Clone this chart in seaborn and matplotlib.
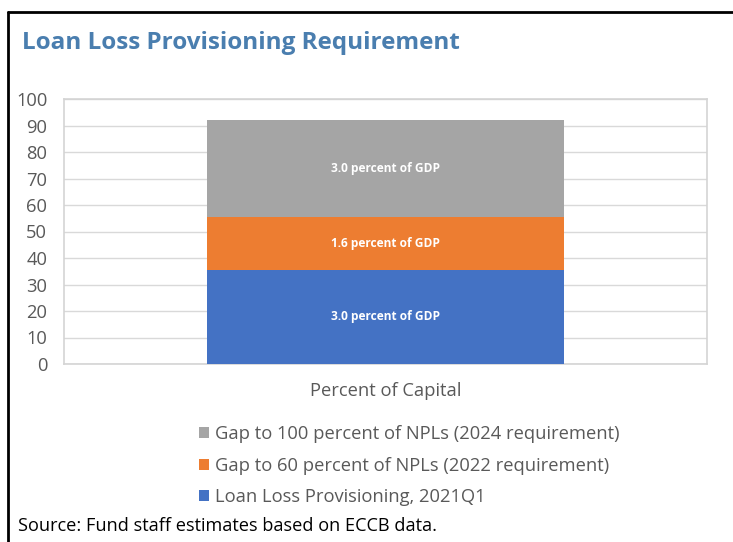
import matplotlib
matplotlib.use("Agg")
import matplotlib.pyplot as plt
from matplotlib.lines import Line2D
from matplotlib.patches import Patch
import seaborn as sns
import pandas as pd

categories = ["Percent of Capital"]
llp_2021q1 = [35.6]
gap_60 = [19.7]
gap_100 = [36.9]
series_names = ["Loan Loss Provisioning, 2021Q1",
                "Gap to 60 percent of NPLs (2022 requirement)",
                "Gap to 100 percent of NPLs (2024 requirement)"]
segment_labels = ["3.0 percent of GDP", "1.6 percent of GDP", "3.0 percent of GDP"]
colors = ["#4472C4", "#ED7D31", "#A5A5A5"]
yticks = [0, 10, 20, 30, 40, 50, 60, 70, 80, 90, 100]

sns.set_theme(style="white")
plt.rcParams["font.family"] = ["Open Sans", "DejaVu Sans"]

df = pd.DataFrame({"cat": categories, "a": llp_2021q1, "b": gap_60, "c": gap_100})
df["top_b"] = df["a"] + df["b"]
df["top_c"] = df["top_b"] + df["c"]

fig = plt.figure(figsize=(7.33, 5.42), dpi=100)
ax = fig.add_axes([64/733, 1-364/542, (707-64)/733, (364-99)/542])

W = 0.556
for col, color in zip(["top_c", "top_b", "a"], [colors[2], colors[1], colors[0]]):
    sns.barplot(data=df, x="cat", y=col, color=color, width=W, ax=ax,
                saturation=1, linewidth=0, zorder=3)

bottoms = [0, df["a"][0], df["top_b"][0]]
heights = [df["a"][0], df["b"][0], df["c"][0]]
for b, h, lab in zip(bottoms, heights, segment_labels):
    ax.text(0, b + h/2, lab, ha="center", va="center", color="white",
            fontsize=8.6, fontweight="bold", zorder=5)

ax.set_xlim(-0.5, 0.5)
ax.set_ylim(0, 100)
ax.set_yticks(yticks)
ax.yaxis.grid(True, color="#D9D9D9", linewidth=1, zorder=0)
ax.set_axisbelow(True)
for s in ax.spines.values():
    s.set_color("#D4D4D4")
    s.set_linewidth(1.2)
ax.tick_params(axis="y", length=0, pad=12, labelsize=13.2, labelcolor="#595959")
ax.tick_params(axis="x", length=0, pad=13, labelsize=13.2, labelcolor="#595959")
ax.set_xlabel("")
ax.set_ylabel("")

fig.text(22/733, 1-43/542, "Loan Loss Provisioning Requirement", fontsize=17.5,
         fontweight="bold", color="#4A7EAF", ha="left", va="center")

handles = [Patch(facecolor=colors[2], edgecolor="none"),
           Patch(facecolor=colors[1], edgecolor="none"),
           Patch(facecolor=colors[0], edgecolor="none")]
fig.legend(handles, [series_names[2], series_names[1], series_names[0]],
           loc="upper left", bbox_to_anchor=(190/733, 1-416/542), frameon=False,
           fontsize=13.2, labelcolor="#595959", handlelength=0.55, handleheight=0.55,
           handletextpad=0.3, labelspacing=0.74, borderpad=0)

fig.text(18/733, 1-526/542, "Source: Fund staff estimates based on ECCB data.",
         fontsize=13.1, color="black", ha="left", va="center")

fig.add_artist(Line2D([8/733, 1], [1-12/542, 1-12/542], color="black", linewidth=2,
                      transform=fig.transFigure))
fig.add_artist(Line2D([8/733, 8/733], [0, 1-12/542], color="black", linewidth=2,
                      transform=fig.transFigure))

fig.savefig("out.png", dpi=100)
